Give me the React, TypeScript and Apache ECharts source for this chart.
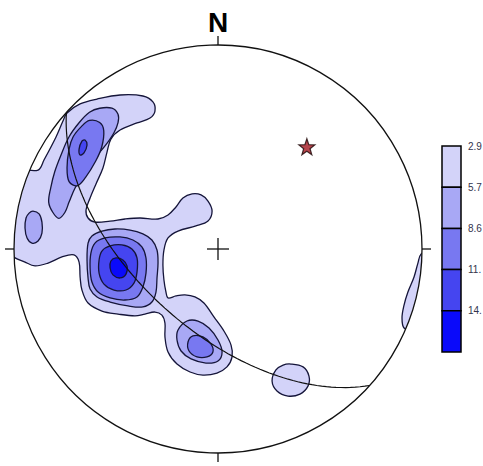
import React, { useEffect, useRef } from "react";
import * as echarts from "echarts";

// Contour levels and their fills (lowest to highest)
const levels = [2.9, 5.7, 8.6, 11.4, 14.3];
const levelColors = ["#d3d3f9", "#a8a8f5", "#7878f1", "#4545f0", "#0a0afa"];

// Contour outlines in projected net coordinates (primitive radius = 100, x = east, y = north)
const contour1Main = [
  [-74.0, 66.7], [-67.6, 71.1], [-59.3, 73.5], [-48.0, 75.5], [-36.8, 75.0], [-31.9, 72.1],
  [-30.9, 67.6], [-33.3, 64.2], [-39.7, 61.8], [-48.0, 58.3], [-52.5, 53.9], [-54.4, 47.5],
  [-56.4, 39.7], [-59.8, 31.9], [-62.7, 25.0], [-64.7, 19.1], [-63.7, 15.2], [-60.3, 13.2],
  [-52.9, 13.7], [-45.6, 14.7], [-38.2, 15.2], [-29.4, 14.7], [-24.5, 16.7], [-20.6, 20.6],
  [-17.2, 25.0], [-12.7, 27.0], [-8.3, 26.5], [-4.9, 23.5], [-2.9, 18.6], [-4.9, 13.7],
  [-10.8, 11.3], [-19.6, 8.8], [-24.5, 5.4], [-26.5, -0.5], [-27.0, -7.8], [-26.5, -15.2],
  [-25.5, -21.1], [-24.5, -24.0], [-20.6, -23.0], [-16.2, -22.5], [-11.3, -23.5], [-6.9, -26.5],
  [-2.0, -33.3], [2.9, -40.2], [6.4, -47.1], [6.9, -52.9], [4.4, -57.8], [-0.5, -60.8],
  [-7.4, -61.8], [-13.7, -60.3], [-20.1, -56.4], [-24.5, -50.5], [-26.0, -43.1], [-26.0, -36.3],
  [-27.5, -32.4], [-30.9, -30.9], [-35.8, -31.9], [-40.7, -32.8], [-49.0, -31.9], [-56.9, -30.4],
  [-63.7, -26.5], [-66.7, -20.1], [-67.6, -13.7], [-68.1, -6.4], [-70.6, -2.9], [-76.5, -3.9],
  [-83.3, -6.9], [-89.7, -8.3], [-94.6, -6.4], [-101, -3], [-104, 8], [-103, 22], [-98, 38],
  [-88.2, 38.7], [-85.3, 43.6], [-79.4, 54.9], [-76.0, 62.7],
];
const contour1South = [
  [35.8, -56.4], [41.7, -57.8], [44.6, -62.3], [44.1, -67.2], [40.2, -71.1], [34.3, -72.1],
  [28.9, -69.6], [26.5, -64.7], [28.4, -59.3], [31.9, -56.9],
];
const contour1East = [
  [99.5, -2.5], [98.0, -6.9], [96.1, -13.7], [93.1, -21.1], [91.2, -27.5], [90.2, -33.8],
  [91.2, -38.7], [95.1, -39.2], [99.0, -27.5], [102.0, -14.2], [102.9, -1.5],
];
const contour2North = [
  [-58, 69], [-52, 69], [-49, 66], [-49, 62], [-51, 57], [-55, 51], [-60, 45], [-65, 38],
  [-70, 30], [-73, 23], [-75, 18], [-78, 15], [-81, 18], [-83, 23], [-82, 30], [-80, 38],
  [-77, 46], [-73, 55], [-68, 62], [-63, 67],
];
const contour2West = [
  [-90.7, 18.6], [-87.7, 17.2], [-86.3, 13.2], [-86.3, 7.8], [-88.2, 3.9], [-91.2, 2.9],
  [-93.6, 5.4], [-94.6, 10.3], [-94.1, 15.2], [-92.6, 17.6],
];
const contour2Centre = [
  [-63.7, 2.9], [-61.8, 6.4], [-56.9, 8.8], [-50.5, 9.8], [-43.1, 9.3], [-36.8, 7.4],
  [-32.4, 4.4], [-29.9, -0.5], [-29.4, -6.9], [-29.9, -14.2], [-30.4, -21.1], [-32.4, -26.0],
  [-36.8, -28.4], [-44.1, -27.9], [-52.9, -26.0], [-59.3, -23.5], [-62.7, -19.6], [-63.7, -14.2],
  [-64.2, -5.4],
];
const contour2South = [
  [-19.6, -39.7], [-15.2, -35.3], [-9.8, -35.3], [-4.4, -38.7], [0, -44.6], [2.0, -50.5],
  [0, -54.9], [-5.9, -55.9], [-13.2, -53.9], [-18.1, -50.0], [-20.1, -44.6],
];
const contour3North = [
  [-63, 63], [-58, 62], [-56, 58], [-57, 50], [-60, 43], [-65, 35], [-69, 31], [-73, 33],
  [-74, 40], [-73, 49], [-71, 55], [-67, 60],
];
const contour3Centre = [
  [-60.3, 2.9], [-55.4, 5.4], [-48.0, 5.9], [-41.7, 4.4], [-37.3, 1.0], [-35.3, -4.4],
  [-35.3, -11.8], [-36.8, -18.6], [-39.7, -23.5], [-45.6, -25.0], [-52.9, -24.0], [-58.8, -21.1],
  [-61.8, -16.2], [-62.7, -9.3], [-62.3, -2.0],
];
const contour3South = [
  [-14.7, -45.6], [-12.3, -42.6], [-7.4, -43.1], [-3.4, -46.6], [-2.5, -50.5], [-5.4, -52.9],
  [-10.3, -52.9], [-14.2, -50.0],
];
const contour4North = [
  [-65.2, 53.4], [-64.2, 51.0], [-65.7, 47.1], [-67.6, 46.1], [-68.1, 49.0], [-66.7, 52.9],
];
const contour4Centre = [
  [-56.9, -1.0], [-52.9, 1.5], [-47.1, 2.0], [-42.2, 0], [-39.7, -4.4], [-39.7, -11.3],
  [-41.2, -16.7], [-45.1, -20.1], [-51.0, -20.1], [-55.9, -17.2], [-58.3, -11.8], [-58.3, -5.4],
];
const contour5Centre = [
  [-50.0, -4.4], [-46.6, -5.4], [-44.6, -8.3], [-45.1, -12.3], [-48.0, -14.2], [-51.5, -12.7],
  [-52.9, -9.3], [-52.5, -5.9],
];

const contours = [
  { level: 0, points: contour1Main },
  { level: 0, points: contour1South },
  { level: 0, points: contour1East },
  { level: 1, points: contour2North },
  { level: 1, points: contour2West },
  { level: 1, points: contour2Centre },
  { level: 1, points: contour2South },
  { level: 2, points: contour3North },
  { level: 2, points: contour3Centre },
  { level: 2, points: contour3South },
  { level: 3, points: contour4North },
  { level: 3, points: contour4Centre },
  { level: 4, points: contour5Centre },
];

// Mean plane (dip direction, dip) and the starred axis (trend, plunge)
const plane = [222, 58];
const starAxis = [41, 34];

const DEG = Math.PI / 180;

// Lower-hemisphere equal-area (Schmidt) projection, primitive radius 100
function project(trend: number, plunge: number): number[] {
  const r = 100 * Math.SQRT2 * Math.sin((90 - plunge) * DEG / 2);
  return [r * Math.sin(trend * DEG), r * Math.cos(trend * DEG)];
}

function greatCircle(dipDir: number, dip: number): number[][] {
  const sd = (dipDir - 90) * DEG;
  const s = [Math.cos(sd), Math.sin(sd), 0];
  const v = [Math.cos(dip * DEG) * Math.cos(dipDir * DEG), Math.cos(dip * DEG) * Math.sin(dipDir * DEG), Math.sin(dip * DEG)];
  const out: number[][] = [];
  for (let a = 0; a <= 180; a += 2) {
    const c = Math.cos(a * DEG), sn = Math.sin(a * DEG);
    const n = c * s[0] + sn * v[0];
    const e = c * s[1] + sn * v[1];
    const d = Math.max(0, Math.min(1, c * s[2] + sn * v[2]));
    const trend = Math.atan2(e, n) / DEG;
    const plunge = Math.asin(d) / DEG;
    out.push(project(trend, plunge));
  }
  return out;
}

// Legend cells are narrow: labels keep their first three characters
const cellLabel = (v: number) => String(v).slice(0, 3);

const STAR = "path://M0,-10L2.35,-3.24L9.51,-3.09L3.8,1.24L5.88,8.09L0,4.2L-5.88,8.09L-3.8,1.24L-9.51,-3.09L-2.35,-3.24Z";

export default function App() {
  const ref = useRef<HTMLDivElement>(null);

  useEffect(() => {
    if (!ref.current) return;
    const chart = echarts.init(ref.current, null, { renderer: "svg" });

    const legendTop = 146;
    const segH = 41.2;
    const legendEls: any[] = [];
    levels.forEach((lv, i) => {
      legendEls.push({
        type: "rect",
        z: 20,
        shape: { x: 442, y: legendTop + i * segH, width: 19, height: segH },
        style: { fill: levelColors[i], stroke: "#000", lineWidth: 1.5 },
      });
      legendEls.push({
        type: "text",
        z: 20,
        x: 468,
        y: legendTop + i * segH,
        style: {
          text: cellLabel(lv),
          fontSize: 10,
          fontFamily: "Liberation Sans, Arial, sans-serif",
          fill: "#33334d",
          verticalAlign: "middle",
          align: "left",
        },
      });
    });

    chart.setOption({
      animation: false,
      grid: { left: 14, top: 45, width: 408, height: 408, containLabel: false },
      xAxis: { type: "value", min: -100, max: 100, show: false },
      yAxis: { type: "value", min: -100, max: 100, show: false },
      graphic: legendEls,
      series: [
        {
          type: "custom",
          name: "contours",
          z: 1,
          silent: true,
          data: contours.map(() => [0, 0]),
          renderItem: (params: any, api: any) => {
            const c = contours[params.dataIndex];
            return {
              type: "polygon",
              shape: { points: c.points.map((p) => api.coord(p)), smooth: 0.35 },
              style: { fill: levelColors[c.level], stroke: "#15153a", lineWidth: 1.3 },
            };
          },
        },
        {
          type: "line",
          name: "great circle",
          z: 2,
          silent: true,
          symbol: "none",
          data: greatCircle(plane[0], plane[1]),
          lineStyle: { color: "#111", width: 1.2 },
        },
        {
          type: "custom",
          name: "net",
          z: 3,
          silent: true,
          data: [[0, 0]],
          renderItem: (_p: any, api: any) => {
            const c = api.coord([0, 0]);
            const r = api.size([100, 0])[0];
            const tick = 9;
            const arm = 11;
            const ln = (x1: number, y1: number, x2: number, y2: number) => ({
              type: "line",
              shape: { x1, y1, x2, y2 },
              style: { stroke: "#111", lineWidth: 1.3 },
            });
            return {
              type: "group",
              children: [
                { type: "ring", shape: { cx: c[0], cy: c[1], r0: r, r: r + 15 }, style: { fill: "#fff" } },
                { type: "circle", shape: { cx: c[0], cy: c[1], r }, style: { fill: "none", stroke: "#111", lineWidth: 1.3 } },
                ln(c[0], c[1] - r, c[0], c[1] - r - tick),
                ln(c[0], c[1] + r, c[0], c[1] + r + tick),
                ln(c[0] - r, c[1], c[0] - r - tick, c[1]),
                ln(c[0] + r, c[1], c[0] + r + tick, c[1]),
                ln(c[0] - arm, c[1], c[0] + arm, c[1]),
                ln(c[0], c[1] - arm, c[0], c[1] + arm),
                {
                  type: "text",
                  x: c[0],
                  y: c[1] - r - 23,
                  style: {
                    text: "N",
                    fontSize: 28,
                    fontWeight: "bold",
                    fontFamily: "Liberation Sans, Arial, sans-serif",
                    fill: "#000",
                    align: "center",
                    verticalAlign: "middle",
                  },
                },
              ],
            };
          },
        },
        {
          type: "scatter",
          name: "axis",
          z: 4,
          silent: true,
          symbol: STAR,
          symbolSize: 16,
          data: [project(starAxis[0], starAxis[1])],
          itemStyle: { color: "#a3161f", borderColor: "#1a0505", borderWidth: 1.2 },
        },
      ],
    });

    return () => chart.dispose();
  }, []);

  return (
    <div
      ref={ref}
      style={{ position: "absolute", left: 0, top: 0, width: 483, height: 466 }}
    />
  );
}
